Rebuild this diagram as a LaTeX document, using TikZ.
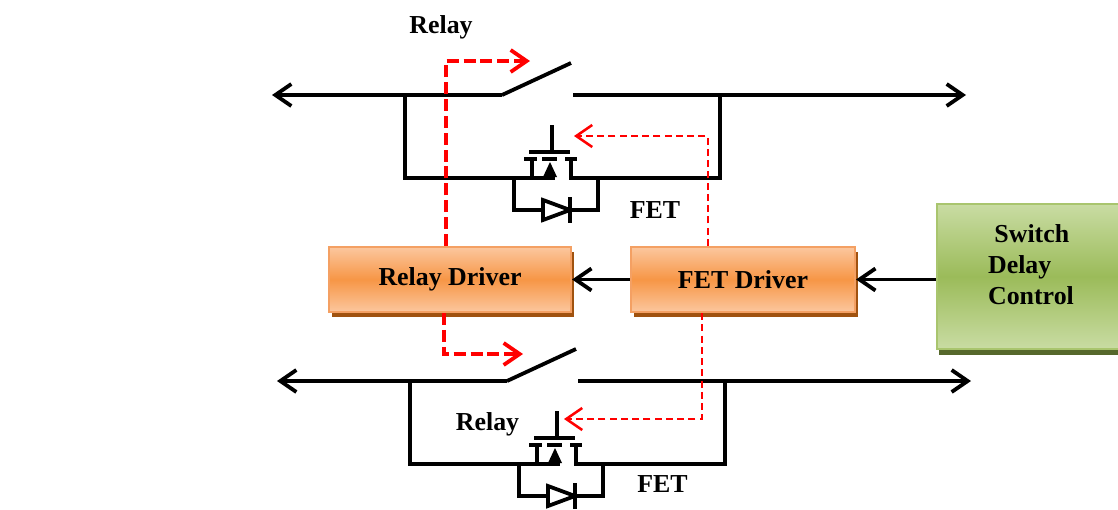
\documentclass[tikz,border=0pt]{standalone}
\usepackage{fontspec}
\setmainfont{Liberation Serif}
\usetikzlibrary{arrows.meta,shadows}
\definecolor{drvorange}{HTML}{F79646}
\definecolor{drvlight}{HTML}{FBC79E}
\definecolor{drvline}{HTML}{F4A063}
\definecolor{drvshadow}{HTML}{A0520F}
\definecolor{ctrlgreen}{HTML}{9BBB59}
\definecolor{ctrllight}{HTML}{C9DCA3}
\definecolor{ctrlline}{HTML}{A9C56E}
\definecolor{ctrlshadow}{HTML}{56682C}
\begin{document}
\begin{tikzpicture}[x=.025cm,y=-.025cm,line width=2.7pt,>={Straight Barb[length=4mm,width=5.5mm]},
    lbl/.style={font=\bfseries\fontsize{18.4}{22}\selectfont},
    drvbox/.style={lbl,draw=drvline,line width=1.5pt,top color=drvlight,bottom color=drvlight,middle color=drvorange,minimum height=1.625cm,
        drop shadow={shadow xshift=.075cm,shadow yshift=-.125cm,fill=drvshadow,opacity=1}},
    ctrlbox/.style={draw=ctrlline,line width=1.5pt,top color=ctrllight,bottom color=ctrllight,middle color=ctrlgreen,minimum width=4.7cm,minimum height=3.625cm,
        drop shadow={shadow xshift=.05cm,shadow yshift=-.15cm,fill=ctrlshadow,opacity=1}},
    relaypath/.style={red,line width=2.7pt,dash pattern=on 8.5pt off 3.5pt},
    fetpath/.style={red,line width=1.8pt,dash pattern=on 5pt off 3pt}]
  \useasboundingbox (0,0) rectangle (1118,509);
  % switch, FET and diode, twice
  \foreach \dx/\dy in {0/0,5/286}{
    \begin{scope}[shift={(\dx,\dy)}]
      \draw[->] (502,95) -- (272,95);
      \draw (502,95) -- (571,63);
      \draw[->] (573,95) -- (966,95);
      \draw (405,95) -- (405,178) -- (555,178);
      \draw (720,95) -- (720,178) -- (571,178) -- (571,159);
      \draw (532,178) -- (532,159);
      \draw[line width=3.3pt] (524,159) -- (537,159) (542,159) -- (557,159) (565,159) -- (577,159);
      \draw[line width=3.3pt] (529,152) -- (570,152);
      \draw (552,125) -- (552,152);
      \fill (550,162) -- (543,177) -- (557,177) -- cycle;
      \draw (514,178) -- (514,210) -- (543,210) (570,210) -- (598,210) -- (598,178);
      \draw[fill=white] (543,200) -- (570,210) -- (543,220) -- cycle;
      \draw (570,197) -- (570,223);
    \end{scope}
  }
  \node[lbl,anchor=base] (relay1) at (441,33) {Relay};
  \node[lbl,anchor=base] (fet1) at (655,218) {FET};
  \node[lbl,anchor=base] (relay2) at (487.5,430) {Relay};
  \node[lbl,anchor=base] (fet2) at (662.5,492) {FET};
  % drivers
  \node[drvbox,minimum width=6.05cm] (rd) at (450,279.5) {Relay Driver};
  \node[drvbox,minimum width=5.6cm] (fd) at (743,279.5) {FET Driver};
  \node[ctrlbox] (ctrl) at (1031,276.5) {};
  \node[lbl,align=left] (ctrltxt) at ([yshift=.3cm]ctrl.center) {\hspace*{4.5pt}Switch\\Delay\\Control};
  \draw[->] (fd) -- (rd);
  \draw[->] (ctrl.west |- fd) -- (fd.east);
  % control paths
  \coordinate (rtip1) at (530,61);
  \coordinate (ftip1) at (574,136);
  \coordinate (rtip2) at (523,354);
  \coordinate (ftip2) at (564,419);
  \draw[relaypath,->] ([xshift=-.1cm]rd.north) |- (rtip1);
  \draw[fetpath,->] ([xshift=-.875cm]fd.north) |- (ftip1);
  \draw[relaypath,->] ([xshift=-.15cm]rd.south) |- (rtip2);
  \draw[fetpath,->] ([xshift=-1.025cm]fd.south) |- (ftip2);
\end{tikzpicture}
\end{document}
